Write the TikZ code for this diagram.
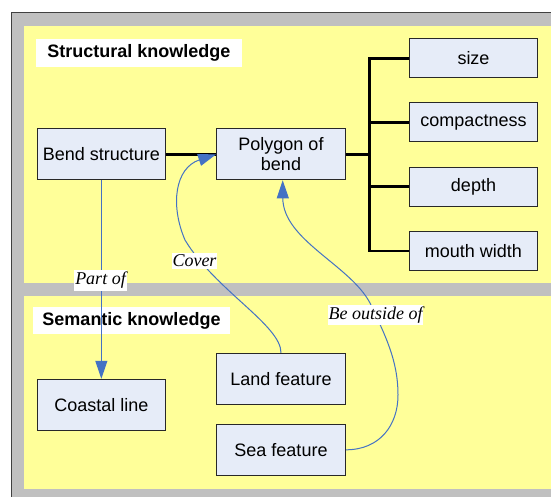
\documentclass[tikz,border=0pt]{standalone}
\usepackage{fontspec}
\setmainfont{Liberation Sans}
\newfontfamily\relfont{Liberation Serif}
\usetikzlibrary{arrows.meta}
\definecolor{panelyellow}{RGB}{255,255,153}
\definecolor{framegray}{RGB}{192,192,192}
\definecolor{frameline}{RGB}{64,64,64}
\definecolor{boxfill}{RGB}{230,236,248}
\definecolor{arrowblue}{RGB}{68,114,196}
\definecolor{boxline}{RGB}{40,40,40}
\begin{document}
\begin{tikzpicture}[x=1pt,y=-1pt,
  every node/.style={font=\fontsize{18}{20.5}\selectfont},
  box/.style={draw=boxline, line width=1pt, fill=boxfill, inner sep=0pt, align=center},
  bigbox/.style={box, minimum width=128.6pt, minimum height=51pt},
  smallbox/.style={box, minimum width=128.4pt, minimum height=39pt},
  titlebox/.style={fill=white, inner sep=0pt, minimum height=27.5pt, font=\fontsize{18}{20}\selectfont\bfseries},
  rel/.style={fill=white, inner xsep=0.8pt, inner ysep=2pt, font=\fontsize{18}{20}\selectfont\relfont\itshape},
  conn/.style={draw=black, line width=2.6pt},
  bluearrow/.style={draw=arrowblue, line width=1pt, -{Triangle[length=18pt,width=12pt]}},
  bluelink/.style={draw=arrowblue, line width=1pt}
]
\useasboundingbox (0,0) rectangle (551,496);
\clip (0,0) rectangle (551,496);
% frame and panels
\fill[white] (0,0) rectangle (551,496);
\filldraw[fill=framegray, draw=frameline, line width=1pt] (11,12.7) rectangle (570,510);
\fill[panelyellow] (24,26) rectangle (570,283);
\fill[panelyellow] (24,296) rectangle (570,489);
% titles
\node[titlebox, minimum width=206pt] (ttop) at (138.9,53) {Structural knowledge};
\node[titlebox, minimum width=197pt] (tbot) at (131.5,320.5) {Semantic knowledge};
% boxes
\node[bigbox] (bend) at (101.35,154.3) {Bend structure};
\node[bigbox] (poly) at (281,154.3) {Polygon of\\bend};
\node[smallbox] (size) at (473.5,58.2) {size};
\node[smallbox] (compact) at (473.5,122.3) {compactness};
\node[smallbox] (depth) at (473.5,186.5) {depth};
\node[smallbox] (mouth) at (473.5,250.8) {mouth width};
\node[bigbox] (coast) at (101.35,404.8) {Coastal line};
\node[bigbox] (land) at (281,378.8) {Land feature};
\node[bigbox] (sea) at (281,449.8) {Sea feature};
% black connectors
\coordinate (bx) at (369.3,0);
\draw[conn] (bend.east) -- (poly.west);
\draw[conn, line join=miter] (size.west) -- (size.west -| bx) -- (mouth.west -| bx) -- (mouth.west);
\draw[conn] (compact.west) -- (compact.west -| bx);
\draw[conn] (depth.west) -- (depth.west -| bx);
\draw[conn] (poly.east) -- (poly.east -| bx);
% blue relations
\draw[bluearrow] (bend.south) -- (coast.north);
\draw[bluearrow] (land.north) .. controls (281,325) and (215,290) .. (185,240)
  .. controls (170,205) and (175,168) .. (poly.west);
\draw[bluearrow] (sea.east) .. controls (380,449.8) and (398,425) .. (398,395)
  .. controls (398,360) and (385,335) .. (370,303)
  .. controls (350,265) and (283,240) .. ([xshift=1.7pt]poly.south);
% relation labels
\node[rel] (lpart) at (100.5,280.3) {Part of};
\node[rel] (lcover) at (194.5,261) {Cover};
\node[rel] (lout) at (375.5,315) {Be outside of};
% redraw boxes on top
\node[bigbox] at (bend) {Bend structure};
\node[bigbox] at (poly) {Polygon of\\bend};
\node[bigbox] at (coast) {Coastal line};
\node[bigbox] at (land) {Land feature};
\node[bigbox] at (sea) {Sea feature};
\end{tikzpicture}
\end{document}
